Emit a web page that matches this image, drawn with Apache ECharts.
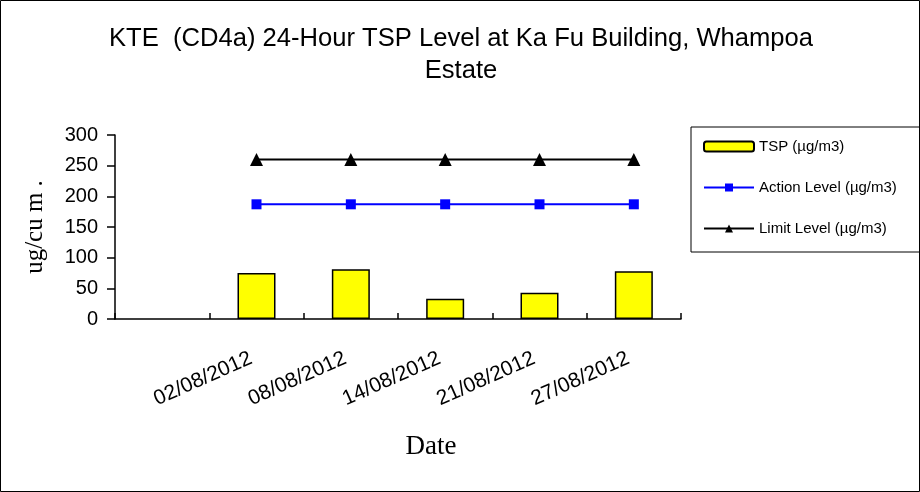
<!DOCTYPE html>
<html>
<head>
    <meta charset="UTF-8">
    <title>KTE (CD4a) 24-Hour TSP Level</title>
    <script src="https://cdn.jsdelivr.net/npm/echarts@6/dist/echarts.min.js"></script>
    <style>
        html, body { margin: 0; padding: 0; background: #fff; }
        #main { width: 920px; height: 492px; }
    </style>
</head>
<body>
<div id="main"></div>
<script>
    // 数据
    var dates = ['', '02/08/2012', '08/08/2012', '14/08/2012', '21/08/2012', '27/08/2012'];
    var tspValues = ['-', 75, 81, 33, 43, 78];
    var actionLevel = ['-', 187, 187, 187, 187, 187];
    var limitLevel = ['-', 260, 260, 260, 260, 260];
    var yTicks = [0, 50, 100, 150, 200, 250, 300];

    var sans = 'Liberation Sans, Arial, sans-serif';
    var serif = 'Liberation Serif, Times New Roman, serif';

    var myChart = echarts.init(document.getElementById('main'));
    var option = {
        backgroundColor: '#fff',
        animation: false,
        title: {
            text: 'KTE  (CD4a) 24-Hour TSP Level at Ka Fu Building, Whampoa\nEstate',
            left: 456,
            top: 18,
            textAlign: 'center',
            textStyle: { fontFamily: sans, fontSize: 25.6, fontWeight: 'normal', color: '#000', lineHeight: 32 }
        },
        legend: {
            orient: 'vertical',
            left: 691,
            top: 127,
            width: 224,
            height: 120,
            padding: [12, 40, 16, 12],
            itemGap: 26,
            itemWidth: 50,
            itemHeight: 10,
            borderColor: '#000',
            borderWidth: 1,
            textStyle: { fontFamily: sans, fontSize: 15, color: '#000' },
            data: ['TSP (µg/m3)', 'Action Level (µg/m3)', 'Limit Level (µg/m3)']
        },
        grid: { left: 115, right: 239, top: 135, bottom: 173, containLabel: false },
        xAxis: {
            type: 'category',
            data: dates,
            boundaryGap: true,
            name: 'Date',
            nameLocation: 'middle',
            nameGap: 114,
            nameTextStyle: { fontFamily: serif, fontSize: 27, color: '#000', padding: [0, 0, 0, 66] },
            axisLine: { lineStyle: { color: '#000', width: 1.5 } },
            axisTick: { show: true, inside: true, length: 6, alignWithLabel: false, lineStyle: { color: '#000', width: 1.5 } },
            axisLabel: { rotate: 24, margin: 36, padding: [0, 6, 0, 0], interval: 0, fontFamily: sans, fontSize: 21, color: '#000' },
            splitLine: { show: false }
        },
        yAxis: {
            type: 'value',
            min: yTicks[0],
            max: yTicks[yTicks.length - 1],
            interval: yTicks[1] - yTicks[0],
            name: 'ug/cu m .',
            nameLocation: 'middle',
            nameGap: 67,
            nameRotate: 90,
            nameTextStyle: { fontFamily: serif, fontSize: 25, color: '#000' },
            axisLine: { show: true, lineStyle: { color: '#000', width: 1.5 } },
            axisTick: { show: true, length: 8, lineStyle: { color: '#000', width: 1.5 } },
            axisLabel: { margin: 17, fontFamily: sans, fontSize: 20, color: '#000' },
            splitLine: { show: false }
        },
        series: [{
            name: 'TSP (µg/m3)',
            type: 'bar',
            data: tspValues,
            barWidth: 38,
            itemStyle: { color: '#FFFF00', borderColor: '#000', borderWidth: 1.5 }
        }, {
            name: 'Action Level (µg/m3)',
            type: 'line',
            data: actionLevel,
            symbol: 'rect',
            symbolSize: 10,
            lineStyle: { color: '#0000FF', width: 2 },
            itemStyle: { color: '#0000FF' }
        }, {
            name: 'Limit Level (µg/m3)',
            type: 'line',
            data: limitLevel,
            symbol: 'triangle',
            symbolSize: 13,
            lineStyle: { color: '#000', width: 2 },
            itemStyle: { color: '#000' }
        }],
        graphic: [{
            type: 'rect',
            shape: { x: 0.5, y: 0.5, width: 919, height: 491 },
            style: { fill: 'none', stroke: '#000', lineWidth: 1 },
            silent: true
        }]
    };
    myChart.setOption(option);
</script>
</body>
</html>
